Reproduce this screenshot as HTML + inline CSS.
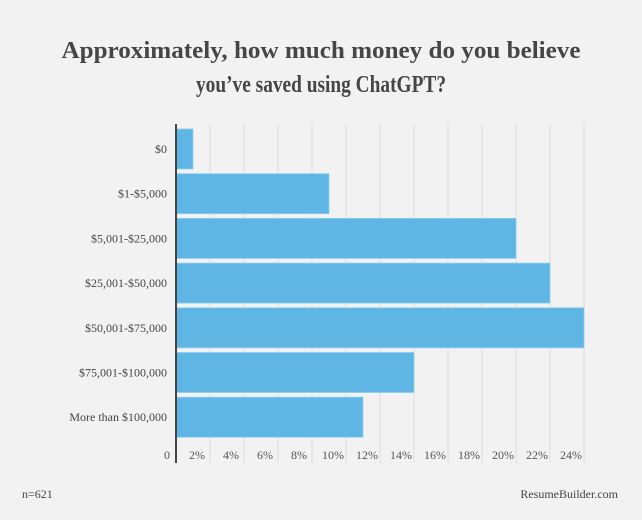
<!DOCTYPE html>
<html><head><meta charset="utf-8"><style>
body{margin:0;background:#f2f2f2;}
svg{display:block;font-family:"Liberation Serif",serif;}
</style></head><body>
<svg id="chart" width="642" height="520" viewBox="0 0 642 520" xmlns="http://www.w3.org/2000/svg">
<rect width="642" height="520" fill="#f2f2f2"/>
<text x="321" y="58" text-anchor="middle" font-size="24" font-weight="bold" fill="#464646" textLength="519" lengthAdjust="spacingAndGlyphs">Approximately, how much money do you believe</text>
<text x="321" y="92" text-anchor="middle" font-size="24" font-weight="bold" fill="#464646" textLength="250" lengthAdjust="spacingAndGlyphs">you’ve saved using ChatGPT?</text>
<g id="grid"></g><g id="bars"></g><g id="labels"></g>
<text x="22" y="498" font-size="12" fill="#444">n=621</text>
<text x="618" y="498" text-anchor="end" font-size="12" fill="#444">ResumeBuilder.com</text>
</svg>
<script>
const categories=["$0","$1-$5,000","$5,001-$25,000","$25,001-$50,000","$50,001-$75,000","$75,001-$100,000","More than $100,000"];
const values=[1,9,20,22,24,14,11];
const ticks=[2,4,6,8,10,12,14,16,18,20,22,24];
const tickLabels=["2%","4%","6%","8%","10%","12%","14%","16%","18%","20%","22%","24%"];
const NS="http://www.w3.org/2000/svg";
const x0=176,pxPer=17,yTop=129,pitch=44.7,barH=40;
const xs=v=>x0+v*pxPer;
const ys=i=>yTop+i*pitch;
function mk(tag,attrs,parent){const e=document.createElementNS(NS,tag);for(const k in attrs)e.setAttribute(k,attrs[k]);parent.appendChild(e);return e;}
const grid=document.getElementById('grid'),bars=document.getElementById('bars'),labels=document.getElementById('labels');
ticks.forEach((t,i)=>{
  const l=mk('line',{x1:xs(t),x2:xs(t),y1:124,y2:463,stroke:'#dcdcdc','stroke-width':1},grid);
  
  
  const tx=mk('text',{x:xs(t)-13,y:459,'text-anchor':'middle','font-size':12,fill:'#555'},labels);
  tx.textContent=tickLabels[i];
  
  
});
const z=mk('text',{x:167,y:459,'text-anchor':'middle','font-size':12,fill:'#555'},labels);
z.textContent='0';


categories.forEach((c,i)=>{
  const r=mk('rect',{x:x0,y:ys(i),width:xs(values[i])-x0,height:barH,fill:'#5fb6e5',stroke:'#8fcdee','stroke-width':0.8},bars);
  
  
  const t=mk('text',{x:167,y:ys(i)+barH/2+4,'text-anchor':'end','font-size':12,fill:'#444'},labels);
  t.textContent=c;
  
  
});
const ax=mk('line',{x1:x0,x2:x0,y1:124,y2:463,stroke:'#444','stroke-width':2},labels);


</script>
</body></html>
